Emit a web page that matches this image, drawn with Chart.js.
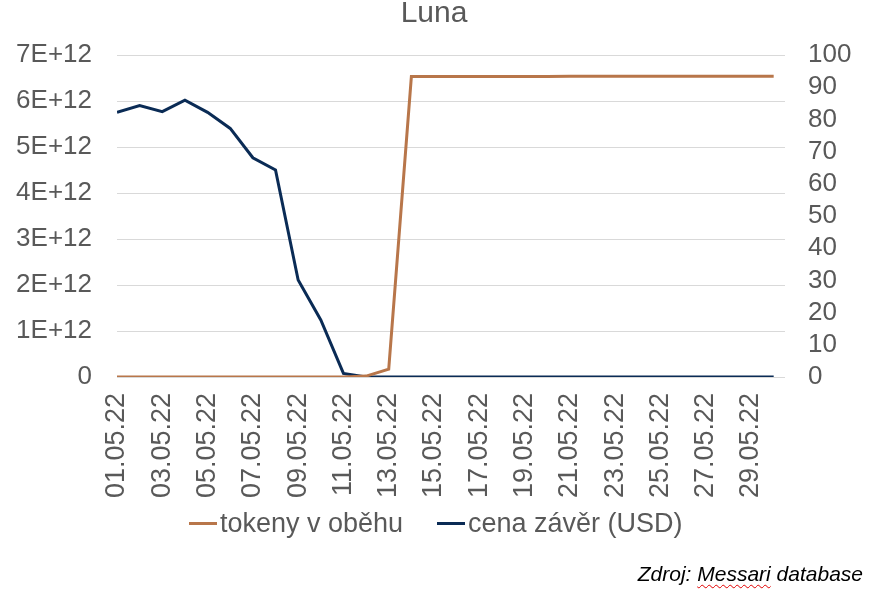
<!DOCTYPE html>
<html><head><meta charset="utf-8">
<script src="https://cdn.jsdelivr.net/npm/chart.js@4.4.1/dist/chart.umd.min.js"></script>
<style>
html,body{margin:0;padding:0;background:#fff;}
#wrap{position:relative;width:888px;height:596px;font-family:"Liberation Sans",Arial,sans-serif;}
canvas{position:absolute;left:0;top:0;}
#src{position:absolute;right:25px;top:562px;font:italic 21px "Liberation Sans",Arial,sans-serif;color:#000;white-space:nowrap;}
#src span{text-decoration:underline wavy #e00000;text-decoration-thickness:1px;text-underline-offset:3px;}
.lg{position:absolute;top:507px;height:32px;line-height:32px;font-size:27px;color:#595959;white-space:nowrap;}
.lg i{display:inline-block;width:28px;height:3px;vertical-align:middle;margin-right:3px;position:relative;top:-1px;}
</style>
</head><body>
<div id="wrap"><canvas id="c" width="888" height="596"></canvas>
<div class="lg" id="lg0" style="left:189px"><i id="lgl0"></i><span id="lgt0"></span></div>
<div class="lg" id="lg1" style="left:437px"><i id="lgl1"></i><span id="lgt1"></span></div>
<div id="src">Zdroj: <span>Messari</span> database</div></div>
<script>
const dates = ["01.05.22","02.05.22","03.05.22","04.05.22","05.05.22","06.05.22","07.05.22","08.05.22","09.05.22","10.05.22",
  "11.05.22","12.05.22","13.05.22","14.05.22","15.05.22","16.05.22","17.05.22","18.05.22","19.05.22","20.05.22",
  "21.05.22","22.05.22","23.05.22","24.05.22","25.05.22","26.05.22","27.05.22","28.05.22","29.05.22","30.05.22"];
const tokenSupply = [3.5e8,3.5e8,3.5e8,3.5e8,3.5e8,3.5e8,3.5e8,3.5e8,3.5e8,3.5e8,
  3.6e8,2.0e10,1.7e11,6.53e12,6.53e12,6.53e12,6.53e12,6.53e12,6.53e12,6.53e12,
  6.54e12,6.54e12,6.54e12,6.54e12,6.54e12,6.54e12,6.54e12,6.54e12,6.54e12,6.54e12];
const closePrice = [82.2,84.3,82.4,86.0,82.2,77.2,68.1,64.3,30.1,17.7,
  1.1,0.0002,0.00002,0.0002,0.0002,0.0002,0.0002,0.0002,0.0002,0.0002,
  0.0002,0.0002,0.0002,0.0002,0.0002,0.0002,0.0002,0.0002,0.0002,0.0002];
const seriesNames = ["tokeny v oběhu","cena závěr (USD)"];
const seriesColors = ["#b8764a","#0a2b55"];
const leftMax = 7e12, leftStep = 1e12, rightMax = 100, rightStep = 10;

const FONT = '"Liberation Sans", Arial, sans-serif';
const GRAY = '#595959';
Chart.defaults.font.family = FONT;
Chart.defaults.color = GRAY;

seriesNames.forEach((n,i)=>{
  document.getElementById('lgt'+i).textContent = n;
  document.getElementById('lgl'+i).style.background = seriesColors[i];
});

new Chart(document.getElementById('c'), {
  type: 'line',
  data: {
    datasets: [
      { label: seriesNames[0], data: tokenSupply.map((v,i)=>({x:i,y:v})), yAxisID: 'y',
        borderColor: seriesColors[0], backgroundColor: seriesColors[0], borderWidth: 3, pointRadius: 0, tension: 0 },
      { label: seriesNames[1], data: closePrice.map((v,i)=>({x:i,y:v})), yAxisID: 'y1',
        borderColor: seriesColors[1], backgroundColor: seriesColors[1], borderWidth: 3, pointRadius: 0, tension: 0 }
    ]
  },
  options: {
    responsive: false,
    devicePixelRatio: 1,
    animation: false,
    layout: { padding: { left: 4, right: 24, top: 0, bottom: 89 } },
    plugins: {
      title: { display: true, text: 'Luna', color: GRAY, font: { size: 30, weight: 'normal', lineHeight: 0.9 }, padding: { top: 0, bottom: 28 } },
      legend: { display: false },
      tooltip: { enabled: false }
    },
    scales: {
      x: { type: 'linear', min: 0, max: 29.5,
        grid: { display: false, drawTicks: false }, border: { display: false },
        afterBuildTicks: s => { s.ticks = dates.map((d,i)=>i).filter(i=>i%2===0).map(v=>({value:v})); },
        afterFit: s => { s.height = 130; },
        ticks: { minRotation: 90, maxRotation: 90, autoSkip: false, padding: 16, color: GRAY, font: { size: 27 },
          callback: v => dates[v] } },
      y: { position: 'left', min: 0, max: leftMax,
        grid: { color: '#d9d9d9', lineWidth: 1, drawTicks: false }, border: { display: false },
        afterFit: s => { s.width = 113; },
        ticks: { stepSize: leftStep, padding: 25, autoSkip: false, color: GRAY, font: { size: 26 },
          callback: v => v === 0 ? '0' : (v/1e12) + 'E+12' } },
      y1: { position: 'right', min: 0, max: rightMax,
        grid: { display: false, drawTicks: false }, border: { display: false },
        afterFit: s => { s.width = 79; },
        ticks: { stepSize: rightStep, padding: 23, autoSkip: false, color: GRAY, font: { size: 26 } } }
    }
  }
});
</script>
</body></html>
